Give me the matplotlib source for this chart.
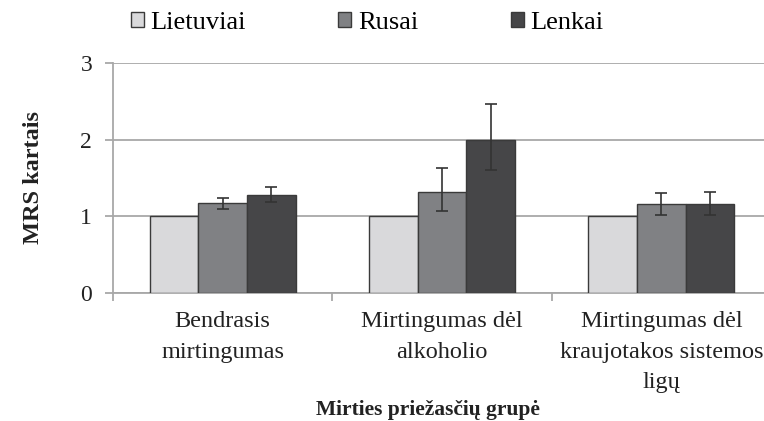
import numpy as np
import matplotlib
matplotlib.use("Agg")
import matplotlib.pyplot as plt

plt.rcParams['font.family'] = ['Liberation Serif', 'DejaVu Serif']

# Data
categories = ['Bendrasis\nmirtingumas', 'Mirtingumas dėl\nalkoholio',
              'Mirtingumas dėl\nkraujotakos sistemos\nligų']
series = ['Lietuviai', 'Rusai', 'Lenkai']
lietuviai = [1.0, 1.0, 1.0]
rusai = [1.17, 1.32, 1.155]
lenkai = [1.28, 2.0, 1.155]
rusai_low = [1.09, 1.07, 1.02]
rusai_high = [1.245, 1.63, 1.31]
lenkai_low = [1.19, 1.61, 1.02]
lenkai_high = [1.38, 2.47, 1.32]

colors = ['#d9d9db', '#808184', '#464648']
edge = '#3a3a3a'
grey = '#a8a8a8'

fig = plt.figure(figsize=(7.64, 4.21), dpi=100)
# the plot area runs past the right edge of the picture, as in the original
ax = fig.add_axes([113 / 764, 1 - 293 / 421, (771 - 113) / 764, (293 - 63) / 421])

x = np.arange(len(categories))
w = 0.667 / 3
values = [lietuviai, rusai, lenkai]
bars = []
for i, (name, vals) in enumerate(zip(series, values)):
    b = ax.bar(x + (i - 1) * w, vals, w, color=colors[i], edgecolor=edge,
               linewidth=1.0, label=name, zorder=3)
    bars.append(b)

# error bars
r = np.array(rusai)
l = np.array(lenkai)
ax.errorbar(x, r, yerr=[r - np.array(rusai_low), np.array(rusai_high) - r],
            fmt='none', ecolor='#333333', elinewidth=1.2, capsize=4,
            capthick=1.2, zorder=4)
ax.errorbar(x + w, l, yerr=[l - np.array(lenkai_low), np.array(lenkai_high) - l],
            fmt='none', ecolor='#333333', elinewidth=1.2, capsize=4,
            capthick=1.2, zorder=4)

ax.set_xlim(-0.5, len(categories) - 0.5)
ax.set_ylim(0, 3)
ax.set_yticks([0, 1, 2, 3])
ax.yaxis.grid(True, color=grey, linewidth=1.3, zorder=0)
ax.set_axisbelow(True)

for s in ['top', 'right']:
    ax.spines[s].set_visible(False)
for s in ['left', 'bottom']:
    ax.spines[s].set_color(grey)
    ax.spines[s].set_linewidth(1.3)

ax.set_xticks(x)
ax.set_xticklabels(categories, fontsize=17.5, linespacing=1.6, color='#222222')
ax.set_xticks(np.arange(len(categories) + 1) - 0.5, minor=True)
ax.tick_params(axis='x', which='major', length=0, pad=13)
ax.tick_params(axis='x', which='minor', length=6, color=grey, width=1.3)
ax.tick_params(axis='y', length=6, color=grey, width=1.3, pad=9,
               labelsize=17, labelcolor='#222222')

ax.set_ylabel('MRS kartais', fontsize=17.5, fontweight='bold', labelpad=26,
              color='#222222')
fig.text(428 / 764, 1 - 410 / 421, 'Mirties priežasčių grupė', fontsize=15.5,
         fontweight='bold', color='#222222', ha='center', va='center')

fig.legend(handles=bars, labels=series, loc='upper left',
           bbox_to_anchor=(120 / 764, 1 - 1 / 421), ncol=3, frameon=False,
           fontsize=19, handlelength=0.5, handleheight=0.5,
           handletextpad=0.25, columnspacing=3.5, borderaxespad=0)

fig.savefig('out.png', dpi=100)
